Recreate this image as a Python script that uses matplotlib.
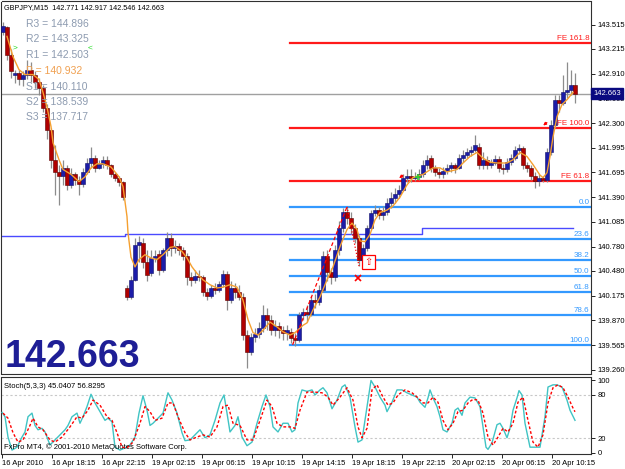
import matplotlib.pyplot as plt
import matplotlib.transforms as mtransforms

plt.rcParams['font.family'] = ['Liberation Sans', 'DejaVu Sans']

# GBPJPY M15 candles (one per bar, left to right)
opens = [143.42, 143.48, 143.14, 142.90, 142.92, 142.85, 142.90, 142.96, 142.89, 142.81,
         142.74, 142.49, 142.22, 141.85, 141.70, 141.65, 141.75, 141.54, 141.67, 141.60,
         141.55, 141.70, 141.81, 141.87, 141.75, 141.80, 141.85, 141.78, 141.68, 141.63,
         141.57, 140.27, 140.16, 140.37, 140.80, 140.83, 140.59, 140.46, 140.64, 140.69,
         140.49, 140.74, 140.89, 140.76, 140.79, 140.74, 140.67, 140.40, 140.37, 140.42,
         140.40, 140.22, 140.17, 140.27, 140.25, 140.32, 140.44, 140.12, 140.27, 140.22,
         140.16, 139.69, 139.48, 139.67, 139.70, 139.78, 139.94, 139.88, 139.75, 139.80,
         139.75, 139.72, 139.73, 139.65, 139.63, 139.94, 139.97, 139.95, 140.12, 140.10,
         140.25, 140.67, 140.47, 140.40, 140.74, 141.01, 141.21, 141.13, 141.01, 140.89,
         140.62, 140.76, 141.01, 141.20, 141.23, 141.17, 141.21, 141.32, 141.38, 141.43,
         141.48, 141.63, 141.65, 141.63, 141.64, 141.67, 141.79, 141.87, 141.75, 141.70,
         141.68, 141.71, 141.75, 141.78, 141.75, 141.87, 141.91, 141.94, 141.97, 142.01,
         141.79, 141.85, 141.78, 141.81, 141.86, 141.75, 141.73, 141.82, 141.87, 141.97,
         142.00, 141.79, 141.75, 141.65, 141.59, 141.63, 141.60, 141.95, 142.28, 142.59,
         142.55, 142.68, 142.71, 142.771]
highs = [143.55, 143.50, 143.21, 142.96, 142.96, 142.94, 143.08, 143.06, 142.94, 142.86,
         142.77, 142.54, 142.24, 142.03, 141.79, 141.85, 141.79, 141.75, 141.70, 141.65,
         141.75, 141.87, 142.01, 141.91, 141.85, 141.90, 141.90, 141.80, 141.70, 141.65,
         141.59, 140.31, 140.42, 140.89, 140.91, 140.89, 140.74, 140.74, 140.74, 140.74,
         140.76, 140.96, 140.95, 140.86, 140.83, 140.78, 140.70, 140.47, 140.49, 140.49,
         140.43, 140.27, 140.31, 140.33, 140.36, 140.49, 140.48, 140.35, 140.33, 140.31,
         140.21, 139.75, 139.72, 139.78, 139.85, 140.06, 140.02, 139.94, 139.88, 139.85,
         139.80, 139.81, 139.78, 139.72, 139.97, 140.02, 140.06, 140.17, 140.20, 140.31,
         140.72, 140.74, 140.52, 140.80, 141.09, 141.26, 141.27, 141.21, 141.06, 140.92,
         140.81, 141.05, 141.23, 141.29, 141.27, 141.28, 141.38, 141.45, 141.50, 141.54,
         141.68, 141.73, 141.73, 141.70, 141.73, 141.85, 141.91, 141.91, 141.79, 141.75,
         141.76, 141.80, 141.82, 141.81, 141.92, 141.97, 141.99, 142.02, 142.16, 142.06,
         141.94, 141.90, 141.86, 141.91, 141.90, 141.80, 141.87, 141.92, 142.02, 142.05,
         142.02, 141.82, 141.78, 141.70, 141.68, 141.65, 142.00, 142.34, 142.65, 142.65,
         142.90, 143.05, 142.96, 142.917]
lows = [143.39, 143.08, 142.86, 142.80, 142.77, 142.76, 142.84, 142.81, 142.74, 142.65,
        142.44, 142.10, 141.75, 141.42, 141.29, 141.54, 141.48, 141.50, 141.54, 141.42,
        141.52, 141.67, 141.75, 141.70, 141.73, 141.75, 141.73, 141.64, 141.59, 141.53,
        141.36, 140.12, 140.14, 140.35, 140.59, 140.52, 140.35, 140.42, 140.59, 140.43,
        140.47, 140.67, 140.67, 140.70, 140.68, 140.62, 140.31, 140.30, 140.33, 140.35,
        140.17, 140.12, 140.15, 140.20, 140.22, 140.28, 140.00, 140.09, 140.15, 140.12,
        139.63, 139.28, 139.44, 139.60, 139.65, 139.73, 139.75, 139.69, 139.68, 139.65,
        139.63, 139.63, 139.59, 139.56, 139.60, 139.88, 139.85, 139.93, 140.02, 140.06,
        140.22, 140.35, 140.32, 140.35, 140.68, 140.96, 141.06, 140.94, 140.83, 140.54,
        140.59, 140.72, 140.99, 141.16, 141.12, 141.11, 141.17, 141.26, 141.32, 141.38,
        141.46, 141.58, 141.58, 141.59, 141.60, 141.64, 141.73, 141.70, 141.65, 141.63,
        141.63, 141.68, 141.70, 141.69, 141.73, 141.82, 141.87, 141.90, 141.94, 141.73,
        141.73, 141.73, 141.75, 141.79, 141.70, 141.68, 141.70, 141.79, 141.85, 141.92,
        141.73, 141.70, 141.60, 141.50, 141.53, 141.57, 141.58, 141.91, 142.24, 142.44,
        142.52, 142.61, 142.65, 142.546]
closes = [143.50, 143.14, 142.94, 142.92, 142.84, 142.89, 142.96, 142.89, 142.81, 142.74,
          142.49, 142.22, 141.85, 141.70, 141.65, 141.75, 141.54, 141.67, 141.60, 141.55,
          141.70, 141.81, 141.87, 141.75, 141.80, 141.85, 141.78, 141.68, 141.63, 141.57,
          141.39, 140.16, 140.37, 140.80, 140.84, 140.59, 140.43, 140.64, 140.67, 140.49,
          140.74, 140.89, 140.76, 140.79, 140.74, 140.67, 140.40, 140.37, 140.42, 140.40,
          140.22, 140.17, 140.27, 140.25, 140.32, 140.44, 140.12, 140.27, 140.22, 140.16,
          139.69, 139.48, 139.67, 139.70, 139.78, 139.94, 139.88, 139.75, 139.80, 139.75,
          139.72, 139.75, 139.65, 139.63, 139.94, 139.97, 139.95, 140.12, 140.10, 140.25,
          140.67, 140.47, 140.40, 140.74, 141.01, 141.21, 141.13, 141.01, 140.89, 140.62,
          140.76, 141.01, 141.20, 141.23, 141.17, 141.21, 141.32, 141.38, 141.43, 141.48,
          141.63, 141.65, 141.63, 141.64, 141.67, 141.79, 141.85, 141.75, 141.70, 141.68,
          141.71, 141.75, 141.78, 141.75, 141.87, 141.91, 141.94, 141.97, 142.03, 141.79,
          141.85, 141.78, 141.81, 141.86, 141.75, 141.73, 141.82, 141.87, 141.97, 142.00,
          141.79, 141.75, 141.65, 141.59, 141.63, 141.60, 141.95, 142.28, 142.59, 142.55,
          142.68, 142.71, 142.771, 142.663]

# orange moving average (bar position, price)
ma_x = [1, 2.5, 4, 5.5, 7.5, 9, 10, 11, 12, 12.5, 14, 15, 17, 19, 20.5, 22, 23.5, 25, 27, 28,
        29, 30, 31, 31.25, 32, 33, 34, 35.5, 37, 38.5, 40, 41.75, 43, 44.75, 46, 47.25, 48.5,
        50, 51.75, 53.5, 55, 56.75, 58.5, 60, 61.25, 62.5, 63.75, 65, 66.75, 68.5, 70, 71.75,
        73, 75, 76, 77.5, 79.25, 81, 82.5, 84.25, 86, 87.25, 88.5, 89.25, 90.5, 91.75, 93,
        94.25, 96, 97.5, 99.25, 101, 102.5, 105, 107.5, 109.25, 111, 113.5, 115, 116.75,
        118.5, 120, 121.75, 123.5, 126, 127.5, 129.25, 131, 132.5, 134.25, 135, 136, 136.75,
        137.5, 138.5, 139.75, 141, 142.5]
ma_y = [143.37, 143.12, 142.96, 142.90, 142.90, 142.84, 142.68, 142.50, 142.26, 142.06,
        141.85, 141.73, 141.67, 141.58, 141.64, 141.75, 141.80, 141.80, 141.76, 141.70,
        141.64, 141.52, 141.15, 140.95, 140.65, 140.53, 140.62, 140.68, 140.64, 140.62,
        140.68, 140.77, 140.78, 140.72, 140.64, 140.53, 140.45, 140.37, 140.31, 140.27,
        140.28, 140.31, 140.28, 140.12, 139.88, 139.72, 139.69, 139.75, 139.85, 139.79,
        139.73, 139.69, 139.72, 139.81, 139.84, 140.00, 140.16, 140.37, 140.53, 140.78,
        140.99, 141.07, 140.99, 140.85, 140.84, 140.93, 141.11, 141.20, 141.23, 141.28,
        141.39, 141.54, 141.63, 141.67, 141.75, 141.75, 141.70, 141.73, 141.81, 141.89,
        141.94, 141.87, 141.82, 141.81, 141.81, 141.85, 141.94, 141.89, 141.79, 141.66,
        141.63, 141.69, 141.89, 142.13, 142.38, 142.53, 142.59, 142.68]

# daily pivot line
pivot_x = [-0.4, 30.5, 30.5, 104.75, 104.75, 142.5]
pivot_y = [140.905, 140.905, 140.935, 140.935, 141.005, 141.005]

# Fibonacci retracement / expansion
fib_high, fib_low = 141.27, 139.57
fib_ratios = [0.0, 23.6, 38.2, 50.0, 61.8, 78.6, 100.0]
fe_low = 140.54
fe_ratios = [61.8, 100.0, 161.8]
fib_start = 71.75
abc_x = [72.4, 86, 89]
abc_y = [139.57, 141.27, 140.54]

pivot_names = ['R3', 'R2', 'R1', 'P', 'S1', 'S2', 'S3']
pivot_vals = [144.896, 143.325, 142.503, 140.932, 140.110, 138.539, 137.717]

price_ticks = [143.515, 143.215, 142.910, 142.605, 142.300, 141.995, 141.695, 141.390,
               141.085, 140.780, 140.480, 140.175, 139.870, 139.565, 139.260]
last_price = 142.663

# Stochastic (5,3,3)
k_x = [-0.25, 0.5, 1.25, 2.25, 3.5, 4.75, 5.5, 6.25, 7.25, 8, 8.75, 9.75, 10.5, 11.75, 13,
       14.25, 15.5, 16.25, 17.25, 18.5, 19.25, 20, 21, 22, 23, 24.25, 25.5, 26.25, 27.25, 28,
       29.25, 30.5, 31.75, 33, 34, 35, 36, 36.75, 37.5, 38.75, 40, 41.25, 42.25, 43.5, 44.75,
       45.5, 46.75, 48, 49.25, 50.5, 51.75, 53, 54.25, 55.25, 56, 56.75, 58, 58.75, 59.75, 61,
       62.25, 63.5, 64.75, 65.75, 66.75, 67.5, 68.75, 70, 71.25, 72.25, 73, 73.75, 74.75, 76,
       77.25, 78, 79.25, 80, 81, 82.25, 83.5, 84.75, 85.5, 86.75, 88, 88.75, 89.75, 91, 92,
       93, 94.25, 95.5, 96, 97.25, 98.5, 99.75, 101, 102.25, 103.5, 104.25, 105.5, 106.25,
       106.75, 107.5, 108.5, 109.25, 110, 111, 112.25, 113, 113.75, 114.75, 115.5, 116.75,
       118, 119.25, 120, 120.75, 121.25, 122.25, 123.5, 124.25, 125, 126, 126.75, 127.5,
       128.5, 129, 129.75, 130.5, 131.75, 133, 134.25, 135.5, 136.25, 137.5, 138.5, 139.75,
       141, 141.75, 143]
k_vals = [56, 50, 22, 4, 8, 22, 29, 50, 55, 38, 32, 34, 29, 11, 18, 25, 32, 38, 50, 55, 41, 50,
          64, 81, 69, 57, 45, 48, 43, 8, 4, 7, 11, 22, 55, 79, 59, 38, 41, 48, 55, 83, 73, 55,
          28, 17, 18, 25, 32, 21, 25, 45, 69, 80, 55, 29, 38, 50, 22, 10, 15, 41, 64, 80, 64,
          36, 29, 41, 41, 29, 32, 69, 87, 85, 87, 80, 87, 90, 83, 61, 73, 91, 94, 77, 36, 15,
          18, 64, 100, 91, 77, 66, 57, 70, 87, 87, 83, 80, 77, 70, 63, 76, 87, 76, 64, 50, 32,
          29, 41, 59, 62, 52, 69, 77, 76, 64, 36, 8, 5, 14, 39, 41, 34, 21, 34, 59, 76, 86, 80,
          41, 8, 8, 8, 50, 91, 94, 94, 91, 73, 59, 45.0407]
d_x = [0, 1.25, 2.5, 3.75, 5, 6.75, 7.5, 8.75, 10, 11.75, 13, 14.75, 16.75, 18.5, 19.75,
       21.25, 22.5, 24.25, 26, 27.25, 28.5, 29.75, 31, 32.5, 34.25, 35.5, 36.75, 38, 39.75,
       41.25, 42.5, 43.75, 45.5, 46.75, 48.5, 50, 51.75, 53.5, 55, 56.25, 57.5, 59.25, 61,
       62.5, 64.25, 66, 67.25, 68.5, 70, 71.75, 73, 74.25, 76, 78, 79.75, 81.25, 82.5, 84.25,
       86, 87.5, 88.75, 89.75, 91, 92.25, 93.5, 95, 96.25, 97.5, 98.75, 100.5, 102.25, 103.75,
       105, 106.25, 107.5, 108.75, 110, 111.25, 112.5, 113.75, 115, 116.25, 117.5, 118.75,
       120, 121.25, 122.5, 123.75, 125, 126.25, 127.5, 128.75, 130, 131.25, 132.5, 133.75,
       135, 136.25, 137.5, 138.75, 140, 141.25, 142.5, 143]
d_vals = [55, 48, 28, 15, 18, 38, 48, 36, 32, 18, 15, 22, 36, 50, 48, 59, 73, 66, 50, 45, 28,
          8, 7, 15, 41, 64, 57, 45, 48, 69, 69, 50, 28, 18, 22, 25, 22, 36, 64, 66, 41, 38, 18,
          18, 45, 73, 64, 41, 36, 36, 34, 59, 84, 84, 83, 77, 66, 77, 90, 73, 36, 21, 34, 87,
          94, 77, 66, 69, 80, 87, 83, 76, 69, 69, 77, 70, 45, 32, 41, 57, 59, 69, 74, 73, 55,
          22, 11, 22, 34, 29, 41, 70, 77, 45, 15, 8, 25, 69, 90, 94, 90, 77, 62, 56.8295]

date_labels = ['16 Apr 2010', '16 Apr 18:15', '16 Apr 22:15', '19 Apr 02:15', '19 Apr 06:15',
               '19 Apr 10:15', '19 Apr 14:15', '19 Apr 18:15', '19 Apr 22:15', '20 Apr 02:15',
               '20 Apr 06:15', '20 Apr 10:15']
date_pos = [-0.25 + 12.5 * i for i in range(len(date_labels))]

W, H = 625, 469


def px_box(x0, y0, x1, y1):
    return [x0 / W, 1 - y1 / H, (x1 - x0) / W, (y1 - y0) / H]


fig = plt.figure(figsize=(W / 100, H / 100), dpi=100)
ax = fig.add_axes(px_box(1.5, 1.5, 591, 374))
ax2 = fig.add_axes(px_box(1.5, 377, 591, 454))

small = 5.5
for a in (ax, ax2):
    a.set_xlim(-0.375, 147)
    for s in a.spines.values():
        s.set_color('#303030')
        s.set_linewidth(0.8)
    a.yaxis.tick_right()
    a.tick_params(axis='y', labelsize=small, length=3, width=0.6, pad=2, colors='black')

# candles
for i in range(len(closes)):
    o, h, l, c = opens[i], highs[i], lows[i], closes[i]
    ax.vlines(i, l, h, color='#8c8c8c', lw=0.9, zorder=3)
    up = c >= o
    body = max(abs(c - o), 0.008)
    ax.bar(i, body, bottom=min(o, c), width=0.78,
           color='#1c1ca8' if up else '#b00000',
           edgecolor='#10106a' if up else '#5a0000', linewidth=0.4, zorder=4)

ax.plot(ma_x, ma_y, color='#f5a030', lw=1, zorder=5)

# bid line and pivot line
ax.axhline(last_price, color='#a0a0a0', lw=1, zorder=2)
ax.plot(pivot_x, pivot_y, color='#4a4aff', lw=1, zorder=2)

# fibonacci retracement levels
for r in fib_ratios:
    lvl = fib_high - (fib_high - fib_low) * r / 100
    ax.plot([fib_start, 147], [lvl, lvl], color='#3399ff', lw=1.6, zorder=2)
    ax.text(146.6, lvl + 0.012, f'{r:.1f}', color='#3399ff', fontsize=5.8,
            ha='right', va='bottom', zorder=6)

# fibonacci expansion levels
for r in fe_ratios:
    lvl = fe_low + (fib_high - fib_low) * r / 100
    ax.plot([fib_start, 147], [lvl, lvl], color='#ff1a1a', lw=1.6, zorder=2)
    ax.text(146.6, lvl + 0.012, f'FE {r:.1f}', color='#ff1a1a', fontsize=5.8,
            ha='right', va='bottom', zorder=6)

ax.plot(abc_x[:2], abc_y[:2], color='red', lw=0.9, ls=(0, (3, 2)), zorder=5)
ax.plot(abc_x[1:], abc_y[1:], color='red', lw=0.9, ls=(0, (1, 1.5)), zorder=5)

# signal marks
ax.plot(88.75, 140.39, marker='x', color='red', ms=4, mew=1.2, zorder=6)
ax.text(91.3, 140.59, '\u21e7', color='red', fontsize=7, ha='center', va='center',
        family='DejaVu Sans', zorder=6,
        bbox=dict(boxstyle='square,pad=0.25', fc='white', ec='red', lw=0.9))
ax.plot(103.75, 141.64, marker='+', color='#33cc33', ms=5, mew=1.2, zorder=6)
for bx, lvl in [(98.5, 141.59), (134.5, 142.24)]:
    ax.annotate('', xy=(bx, lvl + 0.01), xytext=(bx + 2, lvl + 0.09),
                arrowprops=dict(arrowstyle='-|>', color='red', lw=0.9,
                                mutation_scale=4), zorder=6)

# pivot table text
row_y = [24, 39, 55, 71, 87, 102, 117]
for name, val, yy in zip(pivot_names, pivot_vals, row_y):
    col = '#f0a050' if name == 'P' else '#8d9bb0'
    fig.text(26 / W, 1 - yy / H, f'{name} = {val:.3f}', color=col, fontsize=7.5,
             ha='left', va='center', zorder=1)
fig.text(13 / W, 1 - 48 / H, '>', color='#22dd22', fontsize=6, ha='left', va='center')
fig.text(88 / W, 1 - 48 / H, '<', color='#22dd22', fontsize=6, ha='left', va='center')

fig.text(4 / W, 1 - 8 / H, 'GBPJPY,M15  142.771 142.917 142.546 142.663', fontsize=5.2,
         ha='left', va='center')
ax.text(0.006, 0.018, f'{last_price:.3f}', transform=ax.transAxes, fontsize=27,
        fontweight='bold', color='#1e1e96', ha='left', va='baseline', zorder=7)

ax.set_ylim(139.21, 143.80)
ax.set_yticks(price_ticks)
ax.set_yticklabels([f'{p:.3f}' for p in price_ticks])
ax.set_xticks([])
trans = mtransforms.blended_transform_factory(ax.transAxes, ax.transData)
ax.text(1.004, last_price, f'{last_price:.3f}', transform=trans, fontsize=small,
        color='white', ha='left', va='center', clip_on=False, zorder=10,
        bbox=dict(boxstyle='square,pad=0.25', fc='#0a0a80', ec='#0a0a80'))

# stochastic panel
ax2.plot(k_x, k_vals, color='#40c4c4', lw=1, zorder=3)
ax2.plot(d_x, d_vals, color='red', lw=1, ls=(0, (2, 1.5)), zorder=4)
for lvl in (80, 20):
    ax2.axhline(lvl, color='#c8c8c8', lw=0.8, ls=(0, (2, 2)), zorder=1)
ax2.set_ylim(-1.4, 104.8)
ax2.set_yticks([100, 80, 20, 0])
ax2.set_yticklabels(['100', '80', '20', '0'])
ax2.set_xticks(date_pos)
ax2.set_xticklabels(date_labels, ha='left')
ax2.tick_params(axis='x', labelsize=small, length=3, width=0.6, pad=1.5)
ax2.text(0.005, 0.92, f'Stoch(5,3,3) {k_vals[-1]:.4f} {d_vals[-1]:.4f}',
         transform=ax2.transAxes, fontsize=small, ha='left', va='top')
ax2.text(0.005, 0.04, 'FxPro MT4, \u00a9 2001-2010 MetaQuotes Software Corp.',
         transform=ax2.transAxes, fontsize=small, ha='left', va='bottom')

fig.savefig('out.png', dpi=100, facecolor='white')
